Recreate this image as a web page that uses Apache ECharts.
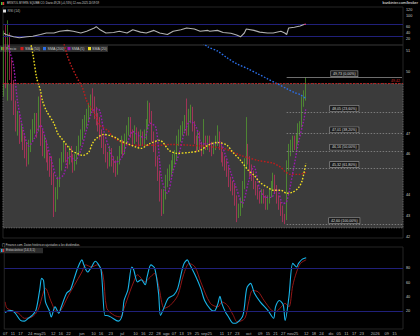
<!DOCTYPE html>
<html><head><meta charset="utf-8">
<script src="https://cdn.jsdelivr.net/npm/echarts@6/dist/echarts.min.js"></script>
<style>html,body{margin:0;padding:0;background:#000;}#c{width:420px;height:336px;}</style>
</head><body><div id="c"></div>
<script>
// ---------- data ----------
const startDate = [2025, 3, 7];      // 7 Apr 2025 (weekday calendar)
const categoryCount = 208;
const tickDates = ['2025-04-07','2025-04-11','2025-04-17','2025-04-24','2025-05-01','2025-05-12','2025-05-16','2025-05-22','2025-06-02','2025-06-10','2025-06-16','2025-06-23','2025-07-01','2025-07-10','2025-07-16','2025-07-22','2025-07-28','2025-08-01','2025-08-07','2025-08-13','2025-08-19','2025-08-25','2025-09-01','2025-09-11','2025-09-17','2025-09-23','2025-10-01','2025-10-09','2025-10-15','2025-10-21','2025-10-27','2025-11-03','2025-11-12','2025-11-18','2025-11-24','2025-12-01','2025-12-05','2025-12-11','2025-12-17','2025-12-23','2026-01-01','2026-01-09','2026-01-15'];
const tickTexts = ['07','11','17','24','may25','12','16','22','jun','10','16','23','jul','10','16','22','28','ago','07','13','19','25','sep25','11','17','23','oct','09','15','21','27','nov25','12','18','24','dic','05','11','17','23','2026','09','15'];

const opens = [50.0,51.5,49.4,51.6,50.2,49.2,48.2,47.4,47.6,46.9, 47.0,46.6,46.2,45.7,46.3,46.9,47.4,47.6,47.3,48.5, 46.8,46.2,46.4,45.9,45.6,45.4,44.8,43.5,44.1,44.6, 45.5,45.8,46.2,45.9,45.7,46.1,45.8,45.5,45.7,46.2, 46.7,46.9,47.4,47.6,47.9,48.2,48.6,48.5,48.0,47.7, 47.5,47.0,46.6,46.3,45.9,45.6,46.1,45.7,45.4,45.2, 45.7,46.2,46.5,46.2,46.7,47.1,47.5,47.0,46.7,47.1, 46.9,46.6,46.9,46.6,46.9,47.4,48.2,47.9,46.9,46.4, 45.7,45.0,44.0,43.4,44.0,44.7,45.0,45.2,45.5,45.8, 45.9,46.7,46.9,47.1,47.4,47.8,47.1,47.9,48.1,47.4, 46.7,46.4,46.9,46.4,46.2,46.7,46.4,46.7,46.4,46.2, 46.4,46.7,46.9,46.4,45.9,45.7,45.5,45.2,44.7,44.5, 44.3,43.8,43.0,43.3,43.6,44.5,45.5,46.3,45.7,45.2, 45.0,44.5,44.3,44.0,43.8,44.1,43.8,43.5,43.8,44.1, 44.5,44.8,44.3,43.8,43.5,43.3,42.9,42.9,45.5,46.2, 46.4,46.7,46.4,46.7,47.2,47.4,48.6,49.0];
const closes = [51.0,49.6,51.8,50.2,49.0,48.2,47.5,47.7,46.8,47.2, 46.5,46.1,45.8,46.4,46.9,47.4,47.7,47.2,48.3,46.8, 46.2,46.5,45.9,45.6,45.2,44.9,43.5,44.1,44.6,45.5, 45.8,46.3,45.9,45.6,46.2,45.8,45.4,45.7,46.2,46.7, 46.9,47.4,47.6,47.9,48.2,48.6,48.5,48.0,47.8,47.5, 47.0,46.6,46.3,45.9,45.6,46.1,45.7,45.4,45.2,45.7, 46.2,46.5,46.2,46.7,47.1,47.5,47.0,46.7,47.1,46.9, 46.6,46.9,46.6,46.9,47.4,48.2,47.9,46.9,46.4,45.7, 45.0,44.0,43.4,44.0,44.7,45.0,45.2,45.5,45.8,45.9, 46.7,46.9,47.1,47.4,47.6,47.1,47.9,48.1,47.4,46.7, 46.4,46.9,46.4,46.2,46.7,46.4,46.7,46.4,46.2,46.4, 46.7,46.9,46.4,45.9,45.7,45.5,45.2,44.7,44.5,44.3, 43.8,43.0,43.3,43.6,44.5,45.5,46.3,45.7,45.2,45.0, 44.5,44.3,44.0,43.8,44.1,43.8,43.5,43.8,44.1,44.5, 44.8,44.3,43.8,43.5,43.3,42.9,42.8,45.5,46.2,46.4, 46.7,46.4,46.7,47.2,47.4,48.6,48.92,49.28];
const lows = [48.8,49.2,48.6,49.6,48.6,47.9,47.1,46.9,46.5,46.6, 46.2,45.8,45.4,45.5,46.1,46.6,47.0,46.8,47.1,46.4, 45.9,45.8,45.6,45.2,44.9,44.5,42.95,43.2,43.8,44.4, 45.2,45.6,45.6,45.3,45.5,45.6,45.1,45.2,45.5,46.0, 46.4,46.7,47.1,47.3,47.6,47.9,48.1,47.7,47.4,47.1, 46.7,46.3,46.0,45.6,45.3,45.4,45.4,45.1,44.9,45.0, 45.5,46.0,45.9,46.0,46.5,46.9,46.8,46.4,46.5,46.6, 46.3,46.4,46.4,46.4,46.7,47.2,47.5,46.6,46.1,45.4, 44.7,43.7,43.0,43.1,43.8,44.4,44.7,44.9,45.2,45.5, 45.7,46.4,46.6,46.9,47.1,46.9,46.9,47.5,47.1,46.5, 46.1,46.2,46.2,45.9,46.0,46.2,46.2,46.1,45.9,46.0, 46.2,46.4,46.2,45.6,45.4,45.2,44.9,44.4,44.2,44.0, 43.5,42.7,42.9,43.0,43.4,44.3,45.3,45.5,44.9,44.7, 44.3,44.0,43.8,43.6,43.6,43.6,43.3,43.3,43.6,43.9, 44.3,44.1,43.6,43.3,43.0,42.7,42.6,42.8,45.2,45.9, 46.1,46.2,46.2,46.5,46.9,47.3,48.3,48.6];
const highs = [52.0,52.3,52.5,51.9,50.6,49.6,48.6,48.1,47.9,47.5, 47.2,46.9,46.6,46.7,47.2,47.7,48.0,48.0,48.8,48.9, 47.2,46.9,46.7,46.2,45.9,45.9,45.1,44.4,44.9,45.8, 46.1,46.6,46.5,46.1,46.4,46.4,46.0,46.0,46.4,46.9, 47.2,47.7,47.9,48.2,48.5,48.9,49.2,48.8,48.3,48.0, 47.8,47.2,46.9,46.5,46.1,46.4,46.3,45.9,45.7,45.9, 46.4,46.9,46.7,47.0,47.4,47.8,47.8,47.2,47.4,47.3, 47.1,47.2,47.1,47.2,47.7,48.6,48.5,48.1,47.1,46.6, 45.9,45.2,44.3,44.3,45.0,45.3,45.5,45.7,46.0,46.2, 46.9,47.2,47.4,47.6,47.9,48.7,48.2,48.4,48.3,47.6, 46.9,47.1,47.1,46.6,47.7,46.9,46.9,46.9,46.6,46.6, 46.9,47.4,47.1,46.6,46.1,45.9,45.7,45.4,44.9,44.7, 44.5,44.0,43.6,43.9,44.7,45.8,47.8,46.5,45.9,45.5, 45.2,44.7,44.5,44.2,44.3,44.3,44.0,44.0,44.3,44.7, 45.1,45.0,44.5,44.0,43.7,43.5,43.1,45.7,46.5,46.7, 46.9,46.9,47.0,47.5,47.6,48.8,49.1,49.73];

// moving averages: [day index, value]
const sma5 = [[0,52.2],[3,51.0],[5,50.3],[7,48.6],[10,47.2],[13,46.4],[16,46.8],[19,47.4],[22,46.6],[25,45.6],[28,44.8],[31,45.0],[34,45.9],[37,45.7],[40,46.2],[43,47.2],[46,48.1],[49,48.2],[52,47.1],[55,46.2],[58,45.6],[61,45.8],[64,46.5],[67,47.1],[70,46.9],[73,46.8],[76,47.5],[79,47.3],[82,44.8],[85,44.1],[88,45.2],[91,46.0],[94,47.1],[97,47.6],[100,47.3],[103,46.5],[106,46.5],[109,46.5],[112,46.6],[115,46.0],[118,45.1],[121,44.3],[124,43.6],[127,44.6],[130,45.4],[133,44.3],[136,43.9],[139,43.9],[142,44.3],[145,43.6],[147,43.7],[150,45.0],[153,46.5],[156,47.7],[157,48.24]];
const sma20 = [[12,52.2],[15,50.87],[17,49.71],[19,49.08],[20,48.6],[22,48.12],[26,47.49],[28,47.0],[30,46.76],[32,46.52],[35,46.18],[38,46.04],[41,45.94],[44,46.09],[46,46.52],[48,46.76],[52,46.96],[55,46.91],[59,46.76],[60,46.67],[64,46.52],[69,46.33],[71,46.28],[76,46.52],[81,46.67],[86,46.18],[90,46.04],[97,46.09],[102,46.18],[106,46.43],[111,46.57],[116,46.43],[119,46.09],[123,45.7],[127,45.22],[130,44.98],[133,44.64],[137,44.4],[140,44.25],[144,44.25],[147,44.1],[150,44.15],[153,44.35],[155,44.7],[157,45.55]];
const sma50 = [[30,51.8],[33,50.77],[35,50.29],[38,49.71],[41,49.18],[43,48.6],[46,48.12],[48,47.78],[50,47.39],[54,47.15],[57,46.81],[66,46.43],[71,46.43],[81,46.43],[86,46.47],[97,46.43],[114,46.28],[123,45.94],[132,45.7],[140,45.56],[144,45.36],[146,45.17],[149,45.02],[154,45.02],[157,45.12]];
const sma200 = [[102,51.5],[106,51.21],[111,51.01],[116,50.68],[121,50.39],[127,50.14],[132,49.9],[137,49.66],[142,49.42],[147,49.18],[151,48.99],[154,48.89],[157,48.7]];

const rsiValues = [[0,40],[1,36],[5,28],[8,25],[12,28],[15,30],[19,36],[22,41],[26,41],[29,47],[33,50],[36,47],[40,41],[43,47],[47,58],[48,63],[50,52],[53,41],[57,43],[60,47],[64,41],[67,52],[71,44],[74,41],[78,50],[81,41],[85,36],[88,47],[92,52],[95,58],[99,55],[102,47],[106,50],[107,47],[111,50],[114,43],[118,40],[121,34],[123,28],[125,41],[126,55],[130,50],[133,44],[137,41],[140,41],[144,47],[146,41],[147,36],[148,58],[151,61],[154,65],[156,70]];
const rsiOverbought = [[156,70],[157,71.5]];
const stochK = [[0,18],[1,20],[3,21],[5,18],[8,7],[10,6],[12,10],[14,14],[16,21],[18,50],[19,66],[20,63],[21,33],[23,21],[24,12],[26,26],[28,17],[29,24],[32,45],[34,50],[36,66],[38,82],[40,92],[41,85],[43,75],[45,82],[47,90],[48,88],[50,78],[52,14],[53,14],[55,12],[59,6],[61,14],[62,35],[64,50],[66,82],[67,78],[69,61],[71,64],[73,57],[74,68],[76,85],[78,80],[80,45],[81,14],[83,26],[85,38],[88,43],[90,52],[93,85],[95,92],[96,87],[99,71],[102,52],[104,35],[107,23],[109,20],[111,31],[112,41],[113,31],[115,18],[116,14],[119,3],[121,4],[124,14],[126,52],[128,59],[130,45],[133,33],[137,21],[140,10],[141,26],[143,35],[145,29],[146,7],[148,40],[150,87],[152,82],[153,87],[155,93],[157,95]];
const stochD = [[0,33],[1,24],[7,17],[10,10],[14,12],[17,21],[20,47],[21,52],[24,33],[27,19],[29,21],[33,42],[36,56],[40,75],[42,85],[45,82],[48,85],[51,71],[53,24],[57,14],[60,12],[62,24],[65,47],[67,61],[69,71],[73,61],[75,66],[78,73],[80,56],[83,24],[86,28],[90,42],[93,71],[96,87],[99,82],[102,61],[107,31],[111,26],[113,33],[116,28],[119,14],[121,5],[125,10],[127,33],[129,49],[132,47],[135,35],[139,21],[141,19],[144,26],[146,31],[148,26],[150,56],[152,75],[154,87],[157,92]];

const fibHigh = 49.73, fibLow = 42.60, fibStart = 147;
const fibLevels = [0, 23.6, 38.2, 50, 61.8, 100];
const fibLowText = '42,60 D';
const alertLine = 49.42;
const boxTop = 49.42, boxBottom = 42.42;
const priceTicks = [42,43,44,46,47,50,51];   // 45, 48, 49 sit under the value tags
const rsiTicks = [20,40,60,100,120];
const stochTicks = [20,40,60,80];

// ---------- build ----------
const categories = [];
(function(){ const d = new Date(Date.UTC(startDate[0], startDate[1], startDate[2]));
  while (categories.length < categoryCount) { const w = d.getUTCDay(); if (w > 0 && w < 6) categories.push(d.toISOString().slice(0,10)); d.setUTCDate(d.getUTCDate()+1); } })();
const labelMap = {}; tickDates.forEach((d,i)=>labelMap[d]=tickTexts[i]);
const pairs = a => a.map(p => [categories[p[0]], p[1]]);
const fmt = v => v.toFixed(2).replace('.', ',');
const F = 'Liberation Sans, Arial, sans-serif';
const upC = '#5cb82f', dnC = '#e5316c', navy = '#20207a';
const candles = opens.map((o,i)=>[o, closes[i], lows[i], highs[i]]);
const last = closes.length - 1;
const lastOf = a => a[a.length-1][1];
const tag = (v, bg, fg, bd, dy) => ({ yAxis: v, lineStyle:{opacity:0}, label:{ show:true, position:'end', distance:2, offset:[0, dy||0], formatter: fmt(v), backgroundColor:bg, color:fg, borderColor:bd||bg, borderWidth:0.5, padding:[0.6,1.5,0.2,1.5], fontSize:3.6, fontFamily:F } });

const fibLines = fibLevels.map(p => { const v = fibHigh - (fibHigh - fibLow) * p / 100;
  return [{ coord:[categories[fibStart], v], lineStyle:{ type: p===0 ? 'solid' : [1.5,1.5], color:'#8a8a8a', width:0.8 },
            label:{ show:true, position:'middle', distance:1, formatter: fmt(v)+' ('+p.toFixed(2).replace('.',',')+'%)', color:'#ddd', fontSize:3.6, fontFamily:F, backgroundColor:'#1c1c1c', borderColor:'#9a9a9a', borderWidth:0.6, padding:[0.8,2,0.4,2] } },
          { coord:[categories[categoryCount-1], v] }]; });

const axisCommon = g => ({ type:'category', gridIndex:g, data:categories, boundaryGap:true,
  axisLine:{show:false}, axisTick:{show:false}, splitLine:{show:false},
  axisLabel:{ show: g===2, interval:0, formatter: v => labelMap[v] || '', fontSize:4, color:'#bdbdbd', margin:2.5, fontFamily:F } });
const yCommon = (g, min, max, ticks) => ({ type:'value', gridIndex:g, position:'right', min, max,
  axisLine:{show:false}, axisTick:{show:false}, splitLine:{show:false},
  axisLabel:{ customValues: ticks, fontSize:3.8, color:'#c8c8c8', margin:3, fontFamily:F } });
const dotted = (c) => ({ color:c, width:1.4, type:[1.6,1.6] });

const option = {
  backgroundColor:'#000', animation:false,
  grid:[
    { left:3, right:17, top:7, height:38, show:true, borderColor:'#2e2e2e', borderWidth:0.8 },
    { left:3, right:17, top:45, height:193, show:true, borderColor:'#2e2e2e', borderWidth:0.8 },
    { left:3, right:17, top:247, height:82, show:true, borderColor:'#2e2e2e', borderWidth:0.8 }
  ],
  xAxis:[axisCommon(0), axisCommon(1), axisCommon(2)],
  yAxis:[ yCommon(0, 0, 130, rsiTicks), yCommon(1, 41.93, 51.3, priceTicks), yCommon(2, -5, 110, stochTicks) ],
  series:[
    { name:'Precio', type:'candlestick', xAxisIndex:1, yAxisIndex:1, data:candles, barWidth:1.3, clip:true,
      itemStyle:{ color:upC, color0:dnC, borderColor:upC, borderColor0:dnC, borderWidth:0.6 },
      markArea:{ silent:true, itemStyle:{ color:'#3b3b3b', borderColor:'#8a8a8a', borderWidth:0.7, borderType:[1,1.5] },
        data:[[{yAxis:boxTop},{yAxis:boxBottom}]] },
      markLine:{ silent:true, symbol:'none',
        data:[ { yAxis:alertLine, lineStyle:{color:'#c42020', width:0.9, type:[2,1.5]},
                 label:{ show:true, position:'insideEndTop', distance:[3,0.5], formatter: fmt(alertLine), color:'#d02828', fontSize:3.6, fontFamily:F } },
               { yAxis:fibLow, lineStyle:{opacity:0},
                 label:{ show:true, position:'insideEndTop', distance:[2,1.5], formatter: fibLowText, color:'#e8e8e8', fontSize:3.6, fontFamily:F } },
               tag(closes[last], '#f2dc1e', '#1a1a00'),
               ...fibLines ] },
      z:3 },
    { name:'SMA (50)', type:'line', xAxisIndex:1, yAxisIndex:1, data:pairs(sma50), symbol:'none', smooth:0.3, lineStyle:dotted('#c01c1c'), z:4,
      markLine:{ silent:true, symbol:'none', data:[ tag(lastOf(sma50), '#5a1010', '#ff7070', '#8a2020', 0.5) ] } },
    { name:'SMA (200)', type:'line', xAxisIndex:1, yAxisIndex:1, data:pairs(sma200), symbol:'none', smooth:0.3, lineStyle:dotted('#2a6ee8'), z:4,
      markLine:{ silent:true, symbol:'none', data:[ tag(lastOf(sma200), '#163a78', '#7ab0ff', '#2a5aa8') ] } },
    { name:'SMA (5)', type:'line', xAxisIndex:1, yAxisIndex:1, data:pairs(sma5), symbol:'none', smooth:0.3, lineStyle:dotted('#9a1ab0'), z:4,
      markLine:{ silent:true, symbol:'none', data:[ tag(lastOf(sma5), '#4a1460', '#e08af8', '#7a2a90') ] } },
    { name:'SMA (20)', type:'line', xAxisIndex:1, yAxisIndex:1, data:pairs(sma20), symbol:'none', smooth:0.3, lineStyle:dotted('#f2e020'), z:4,
      markLine:{ silent:true, symbol:'none', data:[ tag(lastOf(sma20), '#5a5418', '#f2e46a', '#7a7428', -0.5) ] } },
    { name:'%D', type:'line', xAxisIndex:2, yAxisIndex:2, data:pairs(stochD), symbol:'none', smooth:0.3, lineStyle:{color:'#a01818', width:0.9},
      markLine:{ silent:true, symbol:'none', lineStyle:{color:navy, width:1, type:'solid'}, label:{show:false},
        data:[ {yAxis:80}, {yAxis:20}, tag(lastOf(stochD), '#6a1212', '#ff9a9a', '#902020', -3) ] } },
    { name:'%K', type:'line', xAxisIndex:2, yAxisIndex:2, data:pairs(stochK), symbol:'none', smooth:0.3, lineStyle:{color:'#18b4e8', width:1.1},
      markLine:{ silent:true, symbol:'none', data:[ tag(lastOf(stochK), '#1aa8d8', '#002030', '#1aa8d8', 3.5) ] } },
    { name:'RSI', type:'line', xAxisIndex:0, yAxisIndex:0, data:pairs(rsiValues), showSymbol:false, symbol:'none', lineStyle:{width:1.1, color:'#b0b0b0', opacity:1}, z:5,
      markLine:{ silent:true, symbol:'none', lineStyle:{color:navy, width:1, type:'solid'}, label:{show:false},
        data:[ {yAxis:70}, {yAxis:30} ] } },
    { name:'RSI sobrecompra', type:'line', xAxisIndex:0, yAxisIndex:0, data:pairs(rsiOverbought), showSymbol:false, symbol:'none', lineStyle:{width:1.1, color:'#d04a90'}, z:6,
      markLine:{ silent:true, symbol:'none', data:[ tag(lastOf(rsiOverbought), '#5a4a66', '#f0d8f0', '#7a5a86') ] } }
  ],
  graphic:[
    { type:'rect', shape:{x:1,y:2,width:1.6,height:3}, style:{fill:'#3cbf3c'} },
    { type:'rect', shape:{x:2.6,y:2,width:1.6,height:3}, style:{fill:'#e03030'} },
    { type:'text', x:7, y:1.8, style:{ text:'BRISTOL MYERS SQUIBB CO. Diario 49,28 (+0,74%) 12-nov-2025 20:59:59', fontSize:2.7, fill:'#cfcfcf', fontFamily:F } },
    { type:'text', x:418, y:1.3, style:{ text:'bankinter.com/broker', fontSize:3.8, fill:'#eeeeee', align:'right', fontFamily:F } },
    { type:'rect', shape:{x:3,y:9.5,width:3,height:3}, style:{fill:'#dddddd'} },
    { type:'text', x:7.5, y:9.2, style:{ text:'RSI (14)', fontSize:3.4, fill:'#bdbdbd', fontFamily:F } },
    { type:'rect', shape:{x:0,y:45.5,width:108,height:6.5}, style:{fill:'#2d2d2d'} },
    { type:'rect', shape:{x:1,y:47,width:1.6,height:3.2}, style:{fill:'#3cbf3c'} },
    { type:'rect', shape:{x:2.6,y:47,width:1.6,height:3.2}, style:{fill:'#e03030'} },
    { type:'text', x:6, y:46.6, style:{ text:'Precio', fontSize:3.6, fill:'#c8c8c8', fontFamily:F } },
    { type:'rect', shape:{x:20.5,y:47,width:3,height:3.2}, style:{fill:'#d01c1c'} },
    { type:'text', x:25, y:46.6, style:{ text:'SMA (50)', fontSize:3.6, fill:'#c8c8c8', fontFamily:F } },
    { type:'rect', shape:{x:43,y:47,width:3,height:3.2}, style:{fill:'#2a6ee8'} },
    { type:'text', x:47.5, y:46.6, style:{ text:'SMA (200)', fontSize:3.6, fill:'#c8c8c8', fontFamily:F } },
    { type:'rect', shape:{x:67.5,y:47,width:3,height:3.2}, style:{fill:'#9a1ab0'} },
    { type:'text', x:71.5, y:46.6, style:{ text:'SMA (5)', fontSize:3.6, fill:'#c8c8c8', fontFamily:F } },
    { type:'rect', shape:{x:88,y:47,width:3,height:3.2}, style:{fill:'#f2e020'} },
    { type:'text', x:92, y:46.6, style:{ text:'SMA (20)', fontSize:3.6, fill:'#c8c8c8', fontFamily:F } },
    { type:'text', x:2, y:243.3, style:{ text:'(*) Finance.com. Datos históricos ajustados a los dividendos.', fontSize:2.9, fill:'#cfcfcf', fontFamily:F } },
    { type:'rect', shape:{x:0,y:248,width:43,height:5.2}, style:{fill:'#2d2d2d'} },
    { type:'rect', shape:{x:1,y:249,width:1.6,height:3}, style:{fill:'#18b4e8'} },
    { type:'rect', shape:{x:2.6,y:249,width:1.6,height:3}, style:{fill:'#e03030'} },
    { type:'text', x:6, y:248.6, style:{ text:'Estocástico (14,3,1)', fontSize:3.3, fill:'#c8c8c8', fontFamily:F } }
  ]
};
const chart = echarts.init(document.getElementById('c'), null, { renderer:'svg', width:420, height:336 });
chart.setOption(option);
</script></body></html>
